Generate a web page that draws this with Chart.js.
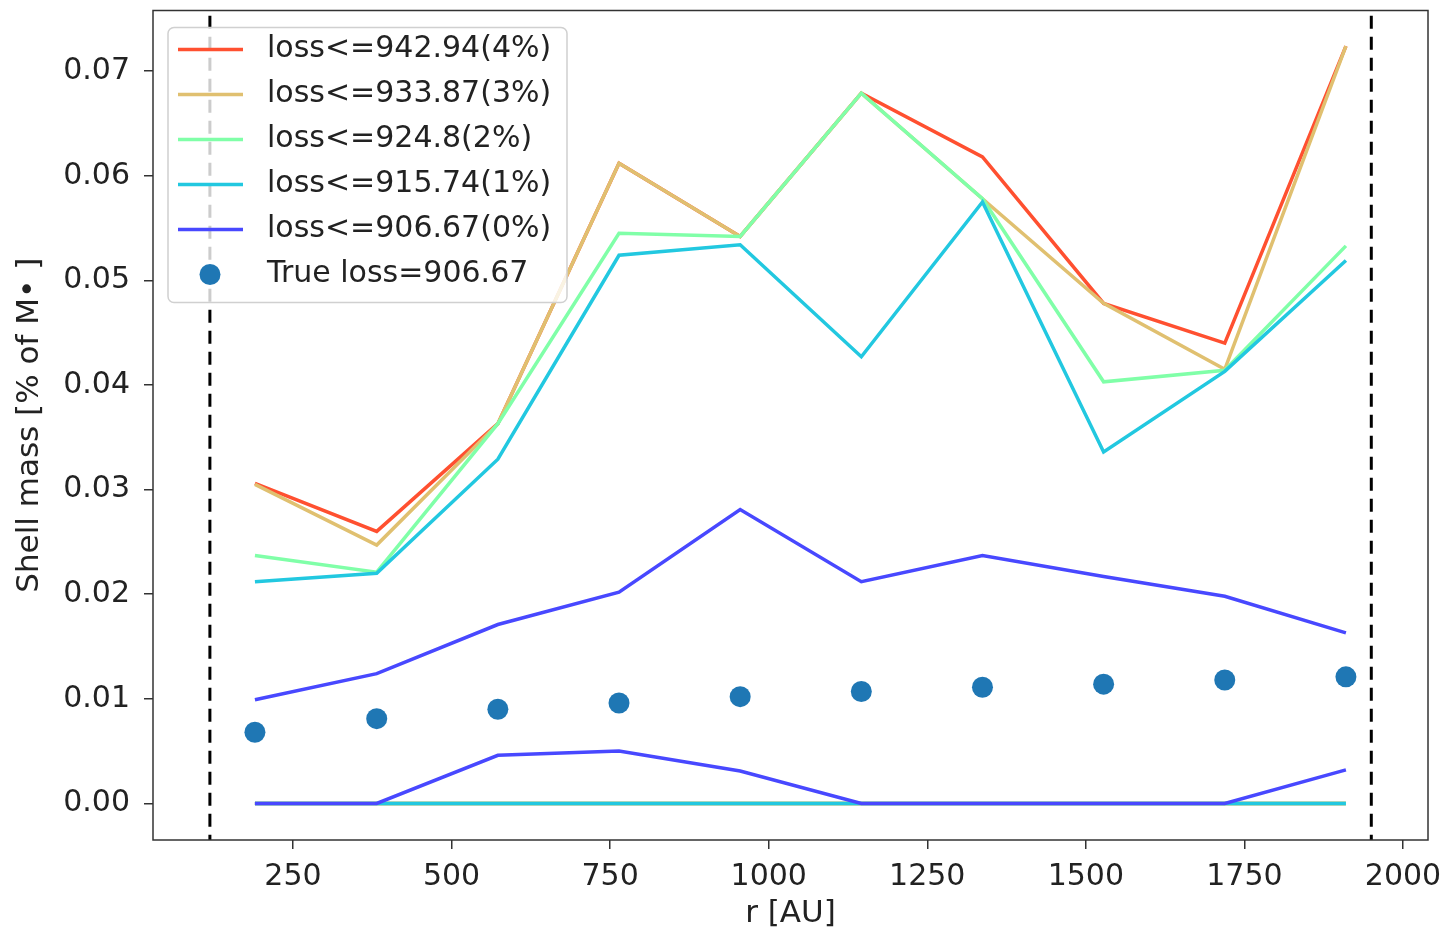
<!DOCTYPE html>
<html>
<head>
<meta charset="utf-8">
<script src="https://cdn.jsdelivr.net/npm/chart.js@4.4.0/dist/chart.umd.min.js"></script>
<style>
  body { margin: 0; background: #fff; }
  canvas { display: block; }
</style>
</head>
<body>
<canvas id="shellChart" width="1448" height="936"></canvas>
<script>
// radius of each shell [AU]
const radii = [190, 382, 573, 764, 955, 1146, 1337, 1528, 1719, 1910];

// upper envelopes for each loss threshold
const loss4Upper = [0.0306, 0.0260, 0.0363, 0.0612, 0.0542, 0.0679, 0.0618, 0.0478, 0.0440, 0.0724];
const loss3Upper = [0.0305, 0.0247, 0.0363, 0.0612, 0.0542, 0.0679, 0.0578, 0.0478, 0.0415, 0.0724];
const loss2Upper = [0.0237, 0.0221, 0.0363, 0.0545, 0.0542, 0.0679, 0.0578, 0.0403, 0.0414, 0.0533];
const loss1Upper = [0.0212, 0.0220, 0.0329, 0.0524, 0.0534, 0.0427, 0.0575, 0.0336, 0.0413, 0.0519];
const loss0Upper = [0.0099, 0.0124, 0.0171, 0.0202, 0.0281, 0.0212, 0.0237, 0.0217, 0.0198, 0.0163];

// lower envelopes
const loss4Lower = [0, 0, 0, 0, 0, 0, 0, 0, 0, 0];
const loss3Lower = [0, 0, 0, 0, 0, 0, 0, 0, 0, 0];
const loss2Lower = [0, 0, 0, 0, 0, 0, 0, 0, 0, 0];
const loss1Lower = [0, 0, 0, 0, 0, 0, 0, 0, 0, 0];
const loss0Lower = [0, 0, 0.0046, 0.0050, 0.0031, 0, 0, 0, 0, 0.0032];

// true solution
const trueMass = [0.0068, 0.0081, 0.0090, 0.0096, 0.0102, 0.0107, 0.0111, 0.0114, 0.0118, 0.0121];

// legend labels
const seriesLabels = ['loss<=942.94(4%)', 'loss<=933.87(3%)', 'loss<=924.8(2%)', 'loss<=915.74(1%)', 'loss<=906.67(0%)'];
const trueLabel = 'True loss=906.67';
const seriesColors = ['#ff5030', '#e0c070', '#80ffa8', '#22c8e0', '#4848ff'];

// dashed vertical marks [AU]
const boundaryRadii = [119, 1950];

// axis ticks
const xTicks = [250, 500, 750, 1000, 1250, 1500, 1750, 2000];
const yTicks = [0, 0.01, 0.02, 0.03, 0.04, 0.05, 0.06, 0.07];

function toPoints(values) {
    return values.map((v, i) => ({ x: radii[i], y: v }));
}

const uppers = [loss4Upper, loss3Upper, loss2Upper, loss1Upper, loss0Upper];
const lowers = [loss4Lower, loss3Lower, loss2Lower, loss1Lower, loss0Lower];

const datasets = [];
// vertical dashed lines first (bottom)
boundaryRadii.forEach((r) => {
    datasets.push({
        label: '',
        data: [{ x: r, y: -1 }, { x: r, y: 1 }],
        borderColor: '#000',
        borderWidth: 3,
        borderDash: [13, 8],
        pointRadius: 0
    });
});
uppers.forEach((up, k) => {
    datasets.push({
        label: seriesLabels[k],
        data: toPoints(up),
        borderColor: seriesColors[k],
        borderWidth: 3.5,
        pointRadius: 0,
        tension: 0
    });
    datasets.push({
        label: '',
        data: toPoints(lowers[k]),
        borderColor: seriesColors[k],
        borderWidth: 3.5,
        pointRadius: 0,
        tension: 0
    });
});
datasets.push({
    label: trueLabel,
    data: toPoints(trueMass),
    showLine: false,
    pointRadius: 10.5,
    pointHoverRadius: 10.5,
    pointBackgroundColor: '#1f77b4',
    pointBorderWidth: 0
});
// later datasets drawn on top
datasets.forEach((d, i) => { d.order = 100 - i; });

// frame around the plot area
const framePlugin = {
    id: 'frame',
    afterDraw(chart) {
        const { ctx, chartArea: a } = chart;
        ctx.save();
        ctx.strokeStyle = '#333';
        ctx.lineWidth = 1.5;
        ctx.strokeRect(a.left, a.top, a.right - a.left, a.bottom - a.top);
        ctx.restore();
    }
};

// matplotlib-like legend box
const legendPlugin = {
    id: 'boxLegend',
    afterDatasetsDraw(chart) {
        const { ctx, chartArea: a } = chart;
        const x = a.left + 15, y = a.top + 17;
        const w = 399, h = 275, r = 6;
        ctx.save();
        ctx.beginPath();
        ctx.roundRect(x, y, w, h, r);
        ctx.fillStyle = 'rgba(255,255,255,0.8)';
        ctx.fill();
        ctx.strokeStyle = '#d0d0d0';
        ctx.lineWidth = 1.5;
        ctx.stroke();
        ctx.font = '30px "DejaVu Sans"';
        ctx.textBaseline = 'middle';
        ctx.fillStyle = '#222';
        seriesLabels.forEach((label, k) => {
            const rowY = y + 22 + k * 45;
            ctx.strokeStyle = seriesColors[k];
            ctx.lineWidth = 3.5;
            ctx.beginPath();
            ctx.moveTo(x + 10, rowY);
            ctx.lineTo(x + 75, rowY);
            ctx.stroke();
            ctx.fillText(label, x + 99, rowY);
        });
        const dotY = y + 22 + 5 * 45;
        ctx.fillStyle = '#1f77b4';
        ctx.beginPath();
        ctx.arc(x + 42, dotY, 10.5, 0, Math.PI * 2);
        ctx.fill();
        ctx.fillStyle = '#222';
        ctx.fillText(trueLabel, x + 99, dotY);
        ctx.restore();
    }
};

const tickFont = { family: 'DejaVu Sans', size: 30 };

new Chart(document.getElementById('shellChart'), {
    type: 'line',
    data: { datasets: datasets },
    options: {
        responsive: false,
        animation: false,
        layout: { padding: { left: 0, top: 8, right: 20, bottom: 0 } },
        plugins: {
            legend: { display: false },
            tooltip: { enabled: false }
        },
        scales: {
            x: {
                type: 'linear',
                min: 29.3,
                max: 2039.4,
                afterBuildTicks: (scale) => { scale.ticks = xTicks.map(v => ({ value: v })); },
                afterFit: (scale) => {
                    scale.height = 96;
                    scale.paddingLeft = 0;
                    scale.paddingRight = 0;
                },
                ticks: {
                    font: tickFont,
                    color: '#222',
                    padding: 10,
                    maxRotation: 0,
                    callback: (v) => String(v)
                },
                grid: { drawOnChartArea: false, drawTicks: true, tickLength: 9, color: '#333', lineWidth: 1.5 },
                border: { display: false },
                title: {
                    display: true,
                    text: 'r [AU]',
                    font: { family: 'DejaVu Sans', size: 31 },
                    color: '#222',
                    padding: { top: 0, bottom: 3 }
                }
            },
            y: {
                type: 'linear',
                min: -0.0035,
                max: 0.0758,
                afterBuildTicks: (scale) => { scale.ticks = yTicks.map(v => ({ value: v })); },
                afterFit: (scale) => {
                    scale.width = 153;
                    scale.paddingTop = 0;
                    scale.paddingBottom = 0;
                },
                ticks: {
                    font: tickFont,
                    color: '#222',
                    padding: 14,
                    callback: (v) => v.toFixed(2)
                },
                grid: { drawOnChartArea: false, drawTicks: true, tickLength: 9, color: '#333', lineWidth: 1.5 },
                border: { display: false },
                title: {
                    display: true,
                    text: 'Shell mass [% of M\u2022 ]',
                    font: { family: 'DejaVu Sans', size: 31 },
                    color: '#222',
                    padding: { top: 11, bottom: 0 }
                }
            }
        }
    },
    plugins: [framePlugin, legendPlugin]
});
</script>
</body>
</html>
